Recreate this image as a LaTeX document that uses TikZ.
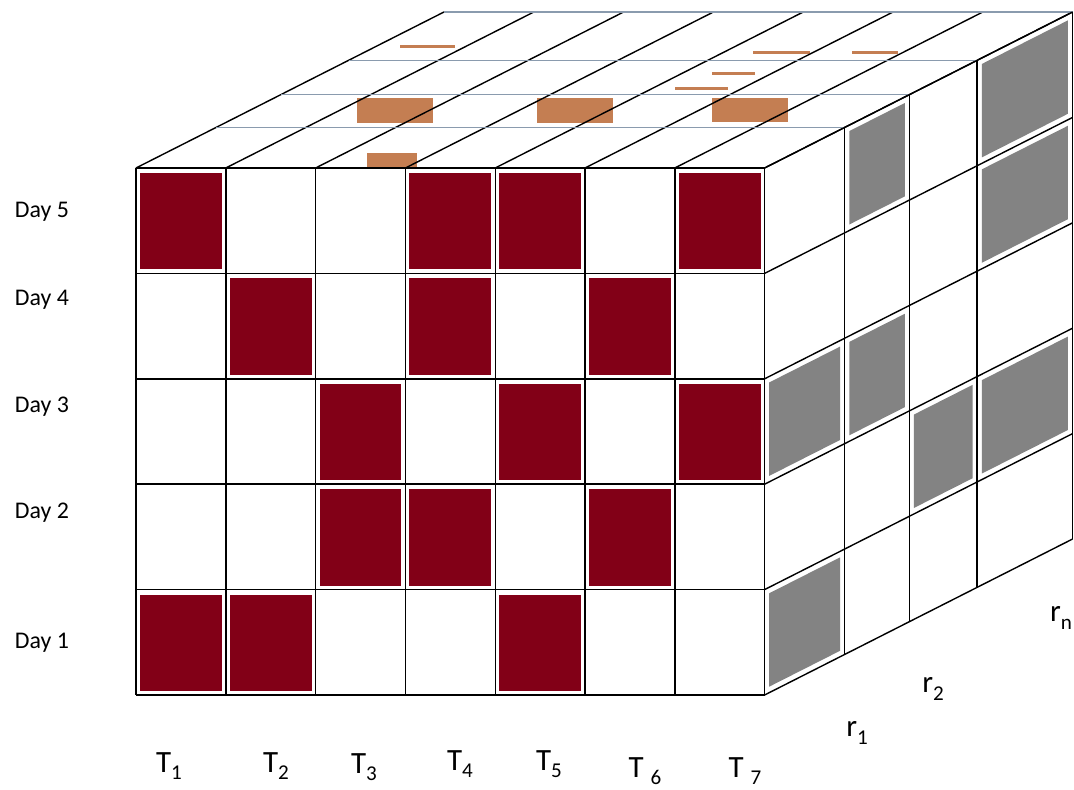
\documentclass[tikz,border=0pt]{standalone}
\usepackage{fontspec}
\setmainfont{Carlito}
\usepackage{tikz}
\definecolor{cellred}{HTML}{820017}
\definecolor{blobgray}{HTML}{838383}
\definecolor{spotbrown}{HTML}{C47E52}
\definecolor{layerline}{HTML}{8A9BAE}
\tikzset{
  edge/.style={draw=black, line width=1pt},
  layer/.style={draw=layerline, line width=0.9pt},
  hit/.style={fill=cellred},
  blob/.style={fill=blobgray},
  spot/.style={fill=spotbrown},
  lbl/.style={font=\fontsize{17}{20}\selectfont, inner sep=0pt},
  axlbl/.style={font=\fontsize{22}{24}\selectfont, inner sep=0pt},
}
\newcommand{\lowidx}[1]{\raisebox{-0.5ex}{\fontsize{15}{15}\selectfont #1}}

\begin{document}
\begin{tikzpicture}[x=0.25mm, y=-0.25mm, z={(77mm,39mm)}]
  \useasboundingbox (0,0) rectangle (1074,790);
  % red cells, front face
  \foreach \c/\r in {1/5,4/5,5/5,7/5, 2/4,4/4,6/4, 3/3,5/3,7/3, 3/2,4/2,6/2, 1/1,2/1,5/1}
    \fill[hit] (136+\c*89.8-89.8+4, 168+5*105.4-\r*105.4+5) rectangle (136+\c*89.8-4, 168+6*105.4-\r*105.4-4);
  % grey blocks, side face
  \foreach \a/\b/\r in {0.26/0.47/5, 0.69/1/5, 0.69/1/4, 0/0.26/3, 0.26/0.47/3, 0.47/0.69/2, 0.69/1/2, 0/0.26/1}
    \fill[blob] (764.6,168+5*105.4-\r*105.4+6,\a+0.015) -- (764.6,168+5*105.4-\r*105.4+6,\b-0.015)
      -- (764.6,168+6*105.4-\r*105.4-6,\b-0.015) -- (764.6,168+6*105.4-\r*105.4-6,\a+0.015) -- cycle;
  % brown marks, top face
  \foreach \xa/\ya/\xb/\yb in {357/98/433/123, 537/98/613/123, 712/98/788/122, 367/153/417/167, 400/45/455/48,
                               753/51/810/54, 852/51/898/54, 712/72/755/75, 675/87/728/90}
    \fill[spot] (\xa,\ya) rectangle (\xb,\yb);
  % front face
  \foreach \i in {0,...,7} \draw[edge] (136+\i*89.8,168) -- (136+\i*89.8,695);
  \foreach \j in {0,...,5} \draw[edge] (136,168+\j*105.4) -- (764.6,168+\j*105.4);
  % top face
  \foreach \i in {0,...,7} \draw[edge] (136+\i*89.8,168,0) -- (136+\i*89.8,168,1);
  \foreach \z in {0.26,0.47,0.69,1} \draw[layer] (136,168,\z) -- (764.6,168,\z);
  % side face
  \foreach \z in {0.26,0.47,0.69,1} \draw[edge] (764.6,168,\z) -- (764.6,695,\z);
  \foreach \j in {0,...,5} \draw[edge] (764.6,168+\j*105.4,0) -- (764.6,168+\j*105.4,1);
  % labels
  \foreach \r/\y in {5/212,4/300,3/407,2/513,1/643} \node[lbl] (day\r) at (42,\y) {Day \r};
  \node[axlbl] (t1) at (169,766) {T\lowidx{1}};
  \node[axlbl] (t2) at (276,766) {T\lowidx{2}};
  \node[axlbl] (t3) at (364,767) {T\lowidx{3}};
  \node[axlbl] (t4) at (460,764) {T\lowidx{4}};
  \node[axlbl] (t5) at (549,764) {T\lowidx{5}};
  \node[axlbl] (t6) at (645,771) {T \lowidx{6}};
  \node[axlbl] (t7) at (745,771) {T \lowidx{7}};
  \node[axlbl] (r1) at (857,733) {r\lowidx{1}};
  \node[axlbl] (r2) at (933,689) {r\lowidx{2}};
  \node[axlbl] (rn) at (1061,618) {r\lowidx{n}};
\end{tikzpicture}
\end{document}
